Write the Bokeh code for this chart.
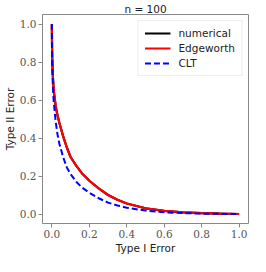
from bokeh.plotting import figure
from bokeh.models import FixedTicker, ColumnDataSource, Legend, LegendItem
from bokeh.embed import file_html
from bokeh.resources import INLINE

title_text = "n = 100"
x_label = "Type I Error"
y_label = "Type II Error"
tick_values = [0.0, 0.2, 0.4, 0.6, 0.8, 1.0]
tick_labels = ["0.0", "0.2", "0.4", "0.6", "0.8", "1.0"]

alpha = [0.0, 0.001, 0.002, 0.005, 0.01, 0.02, 0.03, 0.04, 0.06, 0.08, 0.1,
         0.13, 0.16, 0.2, 0.25, 0.3, 0.35, 0.4, 0.5, 0.6, 0.7, 0.8, 0.9, 1.0]
numerical = [1.0, 0.88, 0.82, 0.73, 0.65, 0.57, 0.52, 0.48, 0.41, 0.35, 0.30,
             0.255, 0.215, 0.175, 0.135, 0.10, 0.075, 0.055, 0.03, 0.016, 0.009, 0.005, 0.002, 0.0]
edgeworth = [1.0, 0.88, 0.82, 0.73, 0.65, 0.57, 0.52, 0.48, 0.41, 0.35, 0.30,
             0.255, 0.215, 0.175, 0.135, 0.10, 0.075, 0.055, 0.03, 0.016, 0.009, 0.005, 0.002, 0.0]
clt = [1.0, 0.85, 0.78, 0.68, 0.59, 0.49, 0.42, 0.37, 0.30, 0.245, 0.21,
       0.17, 0.14, 0.112, 0.083, 0.06, 0.045, 0.033, 0.018, 0.009, 0.005, 0.002, 0.001, 0.0]

src = ColumnDataSource(dict(a=alpha, num=numerical, edg=edgeworth, clt=clt))

p = figure(width=250, height=256, output_backend="svg", toolbar_location=None,
           x_range=(-0.05, 1.05), y_range=(-0.05, 1.05),
           min_border_left=28, min_border_right=2, min_border_top=0, min_border_bottom=2)
p.title.text = title_text
p.title.align = "center"
p.title.text_font = "DejaVu Sans"
p.title.text_font_size = "10.5px"
p.title.text_font_style = "normal"
p.title.text_color = "#222222"
p.title.standoff = 0
p.title.offset = 0

p.grid.visible = False
p.outline_line_color = "#888888"
p.outline_line_width = 1
p.background_fill_color = "white"

for ax in (p.xaxis[0], p.yaxis[0]):
    ax.ticker = FixedTicker(ticks=tick_values)
    ax.major_label_overrides = {v: l for v, l in zip(tick_values, tick_labels)}
    ax.axis_line_color = None
    ax.major_tick_line_color = "#888888"
    ax.major_tick_out = 4
    ax.major_tick_in = 0
    ax.minor_tick_line_color = None
    ax.major_label_text_font = "DejaVu Serif"
    ax.major_label_text_font_size = "10.5px"
    ax.major_label_text_color = "#555555"
    ax.major_label_standoff = 2
    ax.axis_label_text_font = "DejaVu Sans"
    ax.axis_label_text_font_size = "10.5px"
    ax.axis_label_text_font_style = "normal"
    ax.axis_label_text_color = "#222222"
    ax.axis_label_standoff = 1

p.xaxis.axis_label = x_label
p.yaxis.axis_label = y_label

r_num = p.line("a", "num", source=src, line_color="black", line_width=2.2)
r_edg = p.line("a", "edg", source=src, line_color="#ff0000", line_width=2.2)
r_clt = p.line("a", "clt", source=src, line_color="#0000ff", line_width=2.0, line_dash="6 3")

legend = Legend(items=[LegendItem(label="numerical", renderers=[r_num]),
                       LegendItem(label="Edgeworth", renderers=[r_edg]),
                       LegendItem(label="CLT", renderers=[r_clt])],
                location="top_right")
legend.label_text_font = "DejaVu Sans"
legend.label_text_font_size = "10.5px"
legend.label_text_color = "#222222"
legend.glyph_width = 26
legend.glyph_height = 12
legend.spacing = 3
legend.padding = 6
legend.margin = 6
legend.label_standoff = 8
legend.border_line_color = "#dddddd"
legend.background_fill_alpha = 0.9
p.add_layout(legend)

open("out.html", "w").write(file_html(p, INLINE))
